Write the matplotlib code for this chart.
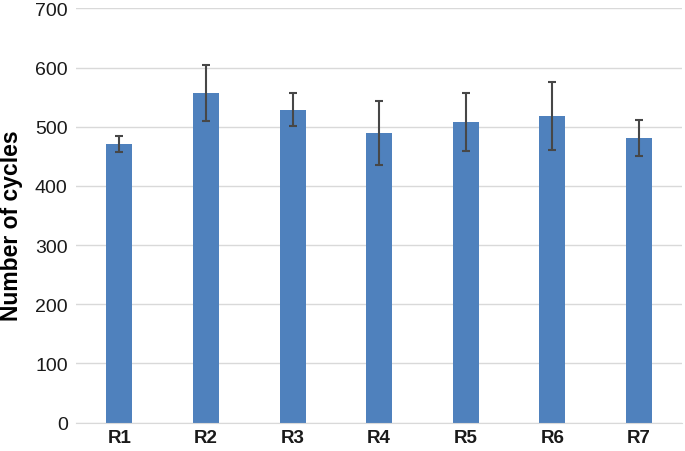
import matplotlib
matplotlib.use('Agg')
import matplotlib.pyplot as plt
import numpy as np

plt.rcParams['font.family'] = ['Liberation Sans', 'DejaVu Sans']

# Data
runs = ['R1', 'R2', 'R3', 'R4', 'R5', 'R6', 'R7']
cycles = [471, 557, 529, 489, 508, 518, 481]
errors = [13, 48, 28, 54, 49, 58, 30]

fig = plt.figure(figsize=(6.85, 4.52), dpi=100)
ax = fig.add_axes([0.111, 0.063, 0.885, 0.916])

x = np.arange(len(runs))
ax.bar(x, cycles, width=0.3, color='#4f81bd', zorder=2,
       yerr=errors, capsize=3,
       error_kw={'ecolor': '#474747', 'elinewidth': 1.5, 'capthick': 1.5})

ax.set_xlim(-0.5, len(runs) - 0.5)
ax.set_ylim(0, 700)
ax.set_yticks(range(0, 701, 100))
ax.set_xticks(x)
ax.set_xticklabels(runs, fontweight='bold', fontsize=13.5)
ax.tick_params(axis='y', labelsize=14, length=0, pad=6, colors='#1a1a1a')
ax.tick_params(axis='x', length=0, pad=5, colors='#1a1a1a')

ax.yaxis.grid(True, color='#d9d9d9', linewidth=1, zorder=0)
ax.set_axisbelow(True)
for s in ['top', 'right', 'left']:
    ax.spines[s].set_visible(False)
ax.spines['bottom'].set_color('#d9d9d9')

ax.set_ylabel('Number of cycles', fontsize=16.5, fontweight='bold')
ax.yaxis.set_label_coords(-0.088, 0.477)

fig.savefig('out.png', dpi=100)
